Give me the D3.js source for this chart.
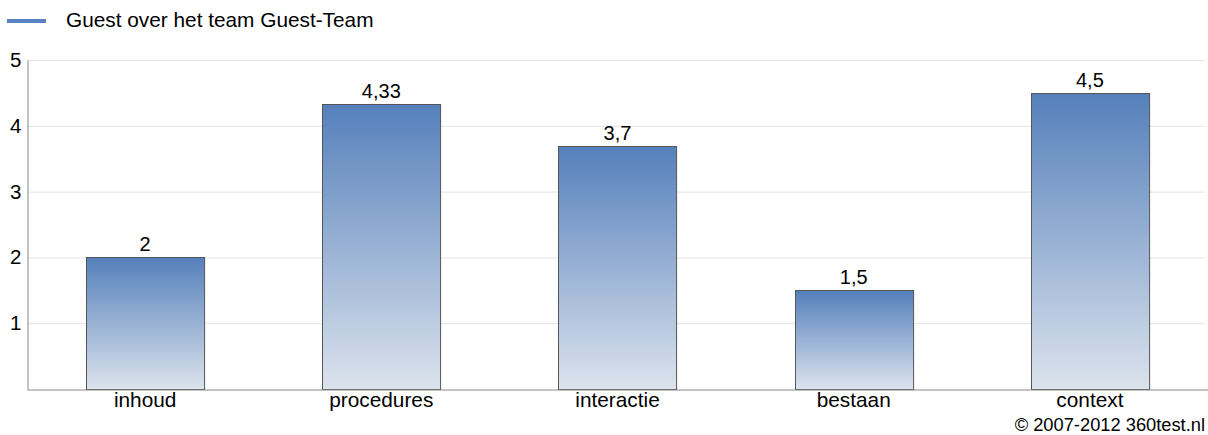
<!DOCTYPE html>
<html><head><meta charset="utf-8">
<script src="https://cdn.jsdelivr.net/npm/d3@7"></script>
<style>body{margin:0;background:#fff}svg{display:block;font-family:"Liberation Sans",Arial,sans-serif}</style>
</head><body><svg id="c" width="1208" height="435"></svg>
<script>
const categories = ["inhoud","procedures","interactie","bestaan","context"];
const values = [2, 4.33, 3.7, 1.5, 4.5];
const valueLabels = ["2","4,33","3,7","1,5","4,5"];
const yTicks = [1,2,3,4,5];
const seriesName = "Guest over het team Guest-Team";
const footer = "© 2007-2012 360test.nl";

const svg = d3.select("#c");
const m = {left:27, right:1208, top:60, bottom:389};
const x = d3.scaleBand().domain(categories).range([m.left, m.right]).paddingInner(0.5).paddingOuter(0.25);
const y = d3.scaleLinear().domain([0,5]).range([m.bottom, m.top]);

const defs = svg.append("defs");
const g = defs.append("linearGradient").attr("id","bg").attr("x1",0).attr("y1",0).attr("x2",0).attr("y2",1);
g.append("stop").attr("offset","0%").attr("stop-color","#5580bb");
g.append("stop").attr("offset","100%").attr("stop-color","#dce3ed");

// gridlines
svg.append("g").selectAll("line").data(yTicks).join("line")
  .attr("x1", m.left).attr("x2", 1205)
  .attr("y1", d=>y(d)+0.5).attr("y2", d=>y(d)+0.5)
  .attr("stroke","#e3e3e3").attr("stroke-width",1);

// y axis
const ya = svg.append("g").attr("transform",`translate(${m.left+0.5},0)`)
  .call(d3.axisLeft(y).tickValues(yTicks).tickSize(0).tickPadding(6).tickFormat(d3.format("d")));
ya.select(".domain").attr("stroke","#8a8a8a");
ya.selectAll("text").attr("font-size",20.5).attr("fill","#000").attr("font-family","Liberation Sans, Arial, sans-serif");

// bars
svg.append("g").selectAll("rect").data(values).join("rect")
  .attr("x", (d,i)=>Math.round(x(categories[i]))+0.5)
  .attr("y", d=>Math.round(y(d))+0.5)
  .attr("width", x.bandwidth())
  .attr("height", d=>Math.round(y(0))-Math.round(y(d)))
  .attr("fill","url(#bg)").attr("stroke","#555").attr("stroke-width",1);

// value labels
svg.append("g").selectAll("text").data(values).join("text")
  .attr("x",(d,i)=>x(categories[i])+x.bandwidth()/2)
  .attr("y", d=>y(d)-6)
  .attr("text-anchor","middle").attr("font-size",20).attr("fill","#000")
  .text((d,i)=>valueLabels[i]);

// x axis
const xa = svg.append("g").attr("transform",`translate(0,${m.bottom+0.5})`)
  .call(d3.axisBottom(x).tickSize(0).tickPadding(3));
xa.select(".domain").attr("stroke","#8a8a8a");
xa.selectAll("text").attr("font-size",20.8).attr("fill","#000").attr("font-family","Liberation Sans, Arial, sans-serif");

// legend
svg.append("line").attr("x1",7).attr("x2",46).attr("y1",21).attr("y2",21)
  .attr("stroke","#5a82c0").attr("stroke-width",4);
svg.append("text").attr("x",66).attr("y",27).attr("font-size",20.8).attr("fill","#000").text(seriesName);

// footer
svg.append("text").attr("x",1205).attr("y",431).attr("text-anchor","end")
  .attr("font-size",18.3).attr("fill","#000").text(footer);
</script></body></html>
